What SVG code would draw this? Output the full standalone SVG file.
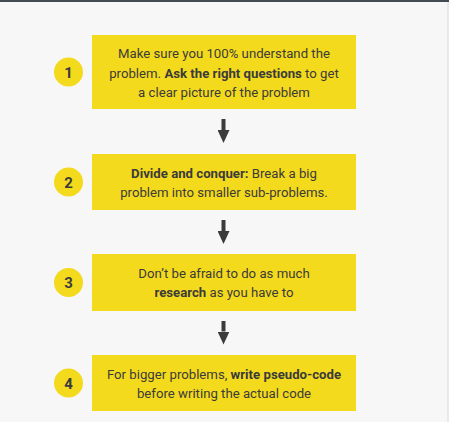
<svg xmlns="http://www.w3.org/2000/svg" width="449" height="422" viewBox="0 0 449 422">
<style>
.box{fill:#f4da1c}
.circ{fill:#f4da1c}
.t{font-family:Roboto,"Liberation Sans",sans-serif;font-size:13.2px;fill:#3b3b3b;text-anchor:middle}
.b{font-weight:bold}
.num{font-family:Roboto,"Liberation Sans",sans-serif;font-size:15px;font-weight:bold;fill:#3b3b3b;text-anchor:middle}
.shaft{stroke:#3b3b3b;stroke-width:4}
</style>
<defs>
<marker id="ah" markerUnits="userSpaceOnUse" markerWidth="13" markerHeight="12" refX="0" refY="6" orient="auto" viewBox="0 0 13 12">
<path d="M0,0 L13,6 L0,12 Z" fill="#3b3b3b"/>
</marker>
</defs>
<rect x="0" y="0" width="449" height="422" fill="#f7f7f7"/>
<rect x="0" y="0" width="449" height="2" fill="#414b53"/>
<rect x="447" y="2" width="2" height="420" fill="#e9e9e9"/>
<g id="connectors">
<line class="shaft" x1="223.5" y1="119" x2="223.5" y2="130" marker-end="url(#ah)"/>
<line class="shaft" x1="223.5" y1="220" x2="223.5" y2="231" marker-end="url(#ah)"/>
<line class="shaft" x1="223.5" y1="321" x2="223.5" y2="331.5" marker-end="url(#ah)"/>
</g>
<g id="step1">
<circle class="circ" cx="68.5" cy="72" r="14.5"/>
<text class="num" x="68.5" y="77.5">1</text>
<rect class="box" x="92" y="35" width="264" height="74"/>
<text class="t" x="224" y="58">Make sure you 100% understand the</text>
<text class="t" x="224" y="77.5">problem. <tspan class="b">Ask the right questions</tspan> to get</text>
<text class="t" x="224" y="97">a clear picture of the problem</text>
</g>
<g id="step2">
<circle class="circ" cx="68.5" cy="182" r="14.5"/>
<text class="num" x="68.5" y="187.5">2</text>
<rect class="box" x="92" y="154" width="264" height="56"/>
<text class="t" x="224" y="177.5"><tspan class="b">Divide and conquer:</tspan> Break a big</text>
<text class="t" x="224" y="196.5">problem into smaller sub-problems.</text>
</g>
<g id="step3">
<circle class="circ" cx="68.5" cy="282.5" r="14.5"/>
<text class="num" x="68.5" y="288">3</text>
<rect class="box" x="92" y="254" width="264" height="57"/>
<text class="t" x="224" y="277.5">Don’t be afraid to do as much</text>
<text class="t" x="224" y="296.5"><tspan class="b">research</tspan> as you have to</text>
</g>
<g id="step4">
<circle class="circ" cx="68.5" cy="383" r="14.5"/>
<text class="num" x="68.5" y="388.5">4</text>
<rect class="box" x="92" y="355" width="264" height="56"/>
<text class="t" x="224" y="379"><tspan>For bigger problems, </tspan><tspan class="b">write pseudo-code</tspan></text>
<text class="t" x="224" y="398">before writing the actual code</text>
</g>
</svg>
